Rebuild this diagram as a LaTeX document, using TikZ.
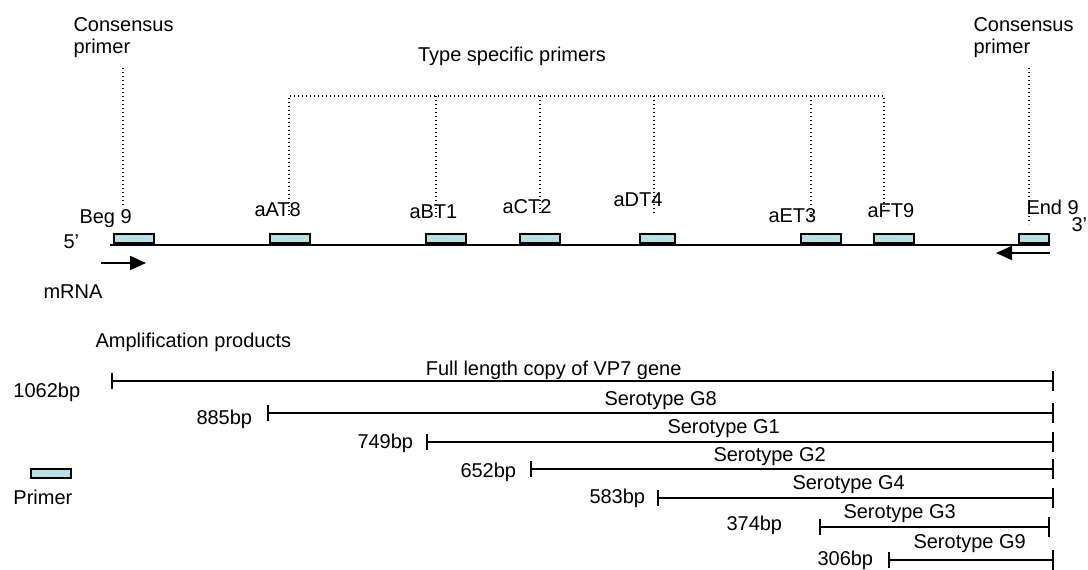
\documentclass[tikz,border=0pt]{standalone}
\usepackage{fontspec}
\setmainfont{Liberation Sans}
\usetikzlibrary{arrows.meta}

\definecolor{primerfill}{RGB}{185,225,228}

\tikzset{every picture/.style={line width=0.75pt}}
\tikzset{
  primerbox/.style={draw, fill=primerfill, line width=1.5pt, minimum width=30pt, minimum height=6.75pt, inner sep=0pt},
  lbl/.style={anchor=base west, inner sep=0pt, font=\fontsize{15}{16}\selectfont},
  guide/.style={line width=0.9pt, dash pattern=on 0.8pt off 2.2pt},
  strand/.style={line width=1.5pt},
  sense/.style={line width=1.5pt, -{Triangle[length=12pt,width=10.5pt]}},
  product/.style={line width=1.5pt, {Bar[width=12pt]}-{Bar[width=15pt]}},
}

\begin{document}
\begin{tikzpicture}[x=0.75pt,y=0.75pt,yscale=-1,xscale=1]
\useasboundingbox (0,0) rectangle (1088,570);

% Text Node
\node[lbl, align=left, anchor=north west] (conL) at (73,17.5) {Consensus\\primer};
% Text Node
\node[lbl, align=left, anchor=north west] (conR) at (973,17.5) {Consensus\\primer};
% Text Node
\node[lbl, anchor=base] (typesp) at (512,62) {Type specific primers};

% Strand
\coordinate (s5) at (110,245);
\coordinate (s3) at (1050,245);
\draw[strand] (s5) -- (s3);
\node[lbl] (five) at (63,248) {5’};
\node[lbl] (three) at (1071,232) {3’};

% Primer boxes
\node[primerbox] (beg) at (134,238.5) {};
\node[primerbox] (aat) at (289.5,238.5) {};
\node[primerbox] (abt) at (446,238.5) {};
\node[primerbox] (act) at (539.5,238.5) {};
\node[primerbox, minimum width=26.25pt] (adt) at (657.5,238.5) {};
\node[primerbox] (aet) at (820.5,238.5) {};
\node[primerbox] (aft) at (893.5,238.5) {};
\node[primerbox, minimum width=22.5pt] (endp) at (1034,238.5) {};

% Text Node
\node[lbl] (begl) at (79,224) {Beg 9};
\node[lbl] (aatl) at (254,217) {aAT8};
\node[lbl] (abtl) at (409,219) {aBT1};
\node[lbl] (actl) at (502,214) {aCT2};
\node[lbl] (adtl) at (613,207) {aDT4};
\node[lbl] (aetl) at (768,223) {aET3};
\node[lbl] (aftl) at (867,218) {aFT9};
\node[lbl] (endl) at (1026,215) {End 9};

% Connection
\coordinate (conLt) at (123,68);
\coordinate (conLb) at (123,208);
\draw[guide] (conLt) -- (conLb);
% Connection
\coordinate (conRt) at (1029,68);
\coordinate (conRb) at (1029,224);
\draw[guide] (conRt) -- (conRb);
% Connection
\coordinate (aatt) at (289,96);
\coordinate (aatb) at (289,215);
\coordinate (aftt) at (884,96);
\coordinate (aftb) at (884,212);
\draw[guide] (aatb) -- (aatt) -- (aftt) -- (aftb);
% Connection
\coordinate (abtt) at (436,96);
\coordinate (abtb) at (436,219);
\draw[guide] (abtt) -- (abtb);
% Connection
\coordinate (actt) at (540,96);
\coordinate (actb) at (540,215);
\draw[guide] (actt) -- (actb);
% Connection
\coordinate (adtt) at (654,96);
\coordinate (adtb) at (654,215);
\draw[guide] (adtt) -- (adtb);
% Connection
\coordinate (aett) at (811,96);
\coordinate (aetb) at (811,219);
\draw[guide] (aett) -- (aetb);

% Direction arrows
\coordinate (mfrom) at (101,263);
\coordinate (mto) at (146,263);
\draw[sense] (mfrom) -- (mto);
\node[lbl] (mrna) at (43,298) {mRNA};
\coordinate (cfrom) at (1050,253);
\coordinate (cto) at (996,253);
\draw[sense] (cfrom) -- (cto);

% Text Node
\node[lbl] (amp) at (95,347) {Amplification products};

% Products
\coordinate (fulls) at (111,381);
\coordinate (fulle) at (1054,381);
\draw[product] (fulls) -- (fulle);
\node[lbl] (fullbp) at (13,397) {1062bp};
\node[lbl, anchor=base east] (fulltx) at (682,375) {Full length copy of VP7 gene};
% Connection
\coordinate (g8s) at (267,413);
\coordinate (g8e) at (1054,413);
\draw[product] (g8s) -- (g8e);
\node[lbl] (g8bp) at (196,424) {885bp};
\node[lbl] (g8tx) at (604,405) {Serotype G8};
% Connection
\coordinate (g1s) at (426,442);
\coordinate (g1e) at (1054,442);
\draw[product] (g1s) -- (g1e);
\node[lbl] (g1bp) at (357,448) {749bp};
\node[lbl] (g1tx) at (667,433) {Serotype G1};
% Connection
\coordinate (g2s) at (530,469);
\coordinate (g2e) at (1054,469);
\draw[product] (g2s) -- (g2e);
\node[lbl] (g2bp) at (460,477) {652bp};
\node[lbl] (g2tx) at (713,461) {Serotype G2};
% Connection
\coordinate (g4s) at (657,498);
\coordinate (g4e) at (1054,498);
\draw[product] (g4s) -- (g4e);
\node[lbl] (g4bp) at (589,503) {583bp};
\node[lbl] (g4tx) at (792,489) {Serotype G4};
% Connection
\coordinate (g3s) at (819,527);
\coordinate (g3e) at (1050,527);
\draw[product] (g3s) -- (g3e);
\node[lbl] (g3bp) at (726,530) {374bp};
\node[lbl] (g3tx) at (843,518) {Serotype G3};
% Connection
\coordinate (g9s) at (888,560);
\coordinate (g9e) at (1054,560);
\draw[product] (g9s) -- (g9e);
\node[lbl] (g9bp) at (817,565) {306bp};
\node[lbl] (g9tx) at (913,548) {Serotype G9};

% Legend
\node[primerbox] (legbox) at (51,473.5) {};
\node[lbl] (legtx) at (13,504) {Primer};

\end{tikzpicture}
\end{document}
